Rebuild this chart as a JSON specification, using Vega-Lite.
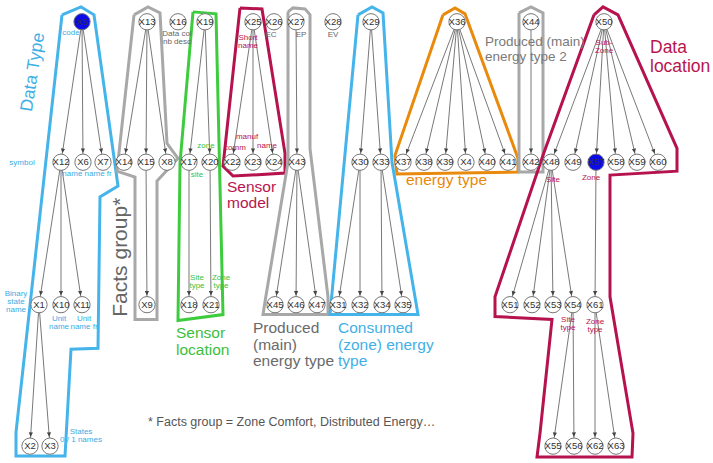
{
"$schema": "https://vega.github.io/schema/vega-lite/v6.json",
"width": 713, "height": 463,
"autosize": {"type": "fit", "contains": "padding"},
"padding": 0,
"background": "#ffffff",
"config": {"view": {"stroke": null}, "text": {"font": "Liberation Sans"}},
"datasets": {
"nodes": [
{"id":"X5","x":82,"y":22},{"id":"X13","x":147,"y":22},{"id":"X16","x":178,"y":22},{"id":"X19","x":205,"y":22},{"id":"X25","x":253,"y":22},{"id":"X26","x":274,"y":22},{"id":"X27","x":296,"y":22},{"id":"X28","x":333,"y":22},{"id":"X29","x":371,"y":22},{"id":"X36","x":457,"y":22},{"id":"X44","x":531,"y":22},{"id":"X50","x":604,"y":22},
{"id":"X12","x":61,"y":164},{"id":"X6","x":83,"y":164},{"id":"X7","x":103,"y":164},{"id":"X14","x":124,"y":164},{"id":"X15","x":146,"y":164},{"id":"X8","x":167,"y":164},{"id":"X17","x":189,"y":164},{"id":"X20","x":210,"y":164},{"id":"X22","x":232,"y":164},{"id":"X23","x":253,"y":164},{"id":"X24","x":274,"y":164},{"id":"X43","x":297,"y":164},{"id":"X30","x":360,"y":164},{"id":"X33","x":381,"y":164},{"id":"X37","x":403,"y":164},{"id":"X38","x":424,"y":164},{"id":"X39","x":445,"y":164},{"id":"X4","x":466,"y":164},{"id":"X40","x":487,"y":164},{"id":"X41","x":508,"y":164},{"id":"X42","x":531,"y":164},{"id":"X48","x":551,"y":164},{"id":"X49","x":573,"y":164},{"id":"X57","x":596,"y":164},{"id":"X58","x":616,"y":164},{"id":"X59","x":637,"y":164},{"id":"X60","x":658,"y":164},
{"id":"X1","x":39,"y":308},{"id":"X10","x":61,"y":308},{"id":"X11","x":82,"y":308},{"id":"X9","x":147,"y":308},{"id":"X18","x":189,"y":308},{"id":"X21","x":211,"y":308},{"id":"X45","x":275,"y":308},{"id":"X46","x":296,"y":308},{"id":"X47","x":317,"y":308},{"id":"X31","x":338,"y":308},{"id":"X32","x":360,"y":308},{"id":"X34","x":382,"y":308},{"id":"X35","x":403,"y":308},{"id":"X51","x":510,"y":308},{"id":"X52","x":532,"y":308},{"id":"X53","x":553,"y":308},{"id":"X54","x":573,"y":308},{"id":"X61","x":595,"y":308},
{"id":"X2","x":30,"y":451},{"id":"X3","x":50,"y":451},{"id":"X55","x":553,"y":451},{"id":"X56","x":574,"y":451},{"id":"X62","x":595,"y":451},{"id":"X63","x":616,"y":451}
],
"edges": [
{"s":"X5","t":"X12"},{"s":"X5","t":"X6"},{"s":"X5","t":"X7"},
{"s":"X12","t":"X1"},{"s":"X12","t":"X10"},{"s":"X12","t":"X11"},
{"s":"X1","t":"X2"},{"s":"X1","t":"X3"},
{"s":"X13","t":"X14"},{"s":"X13","t":"X15"},{"s":"X13","t":"X8"},{"s":"X15","t":"X9"},
{"s":"X19","t":"X17"},{"s":"X19","t":"X20"},{"s":"X17","t":"X18"},{"s":"X20","t":"X21"},
{"s":"X25","t":"X22"},{"s":"X25","t":"X23"},{"s":"X25","t":"X24"},
{"s":"X27","t":"X43"},{"s":"X43","t":"X45"},{"s":"X43","t":"X46"},{"s":"X43","t":"X47"},
{"s":"X29","t":"X30"},{"s":"X29","t":"X33"},{"s":"X30","t":"X31"},{"s":"X30","t":"X32"},{"s":"X33","t":"X34"},{"s":"X33","t":"X35"},
{"s":"X36","t":"X37"},{"s":"X36","t":"X38"},{"s":"X36","t":"X39"},{"s":"X36","t":"X4"},{"s":"X36","t":"X40"},{"s":"X36","t":"X41"},
{"s":"X44","t":"X42"},
{"s":"X50","t":"X48"},{"s":"X50","t":"X49"},{"s":"X50","t":"X57"},{"s":"X50","t":"X58"},{"s":"X50","t":"X59"},{"s":"X50","t":"X60"},
{"s":"X48","t":"X51"},{"s":"X48","t":"X52"},{"s":"X48","t":"X53"},{"s":"X48","t":"X54"},
{"s":"X54","t":"X55"},{"s":"X54","t":"X56"},
{"s":"X57","t":"X61"},{"s":"X61","t":"X62"},{"s":"X61","t":"X63"}
],
"polys": [
{"p":"Data Type","i":0,"x":62,"y":15},{"p":"Data Type","i":1,"x":81,"y":7},{"p":"Data Type","i":2,"x":94,"y":15},{"p":"Data Type","i":3,"x":118,"y":188},{"p":"Data Type","i":4,"x":100,"y":199},{"p":"Data Type","i":5,"x":98,"y":352},{"p":"Data Type","i":6,"x":71,"y":353},{"p":"Data Type","i":7,"x":65,"y":461},{"p":"Data Type","i":8,"x":16,"y":461},{"p":"Data Type","i":9,"x":16,"y":437},{"p":"Data Type","i":10,"x":62,"y":15},
{"p":"Facts group","i":0,"x":134,"y":15},{"p":"Facts group","i":1,"x":148,"y":7},{"p":"Facts group","i":2,"x":160,"y":13},{"p":"Facts group","i":3,"x":167,"y":145},{"p":"Facts group","i":4,"x":178,"y":160},{"p":"Facts group","i":5,"x":157,"y":183},{"p":"Facts group","i":6,"x":157,"y":323},{"p":"Facts group","i":7,"x":135,"y":323},{"p":"Facts group","i":8,"x":135,"y":179},{"p":"Facts group","i":9,"x":117,"y":173},{"p":"Facts group","i":10,"x":134,"y":15},
{"p":"Sensor location","i":0,"x":193,"y":12},{"p":"Sensor location","i":1,"x":216,"y":14},{"p":"Sensor location","i":2,"x":223,"y":318},{"p":"Sensor location","i":3,"x":178,"y":324},{"p":"Sensor location","i":4,"x":180,"y":165},{"p":"Sensor location","i":5,"x":193,"y":12},
{"p":"Sensor model","i":0,"x":240,"y":8},{"p":"Sensor model","i":1,"x":262,"y":9},{"p":"Sensor model","i":2,"x":285,"y":155},{"p":"Sensor model","i":3,"x":285,"y":175},{"p":"Sensor model","i":4,"x":233,"y":178},{"p":"Sensor model","i":5,"x":223,"y":168},{"p":"Sensor model","i":6,"x":240,"y":8},
{"p":"Produced","i":0,"x":288,"y":12},{"p":"Produced","i":1,"x":293,"y":8},{"p":"Produced","i":2,"x":305,"y":9},{"p":"Produced","i":3,"x":310,"y":15},{"p":"Produced","i":4,"x":310,"y":150},{"p":"Produced","i":5,"x":328,"y":300},{"p":"Produced","i":6,"x":328,"y":318},{"p":"Produced","i":7,"x":263,"y":318},{"p":"Produced","i":8,"x":265,"y":305},{"p":"Produced","i":9,"x":288,"y":164},{"p":"Produced","i":10,"x":288,"y":12},
{"p":"Consumed","i":0,"x":358,"y":15},{"p":"Consumed","i":1,"x":372,"y":7},{"p":"Consumed","i":2,"x":383,"y":13},{"p":"Consumed","i":3,"x":392,"y":164},{"p":"Consumed","i":4,"x":418,"y":318},{"p":"Consumed","i":5,"x":330,"y":318},{"p":"Consumed","i":6,"x":358,"y":15},
{"p":"Energy type","i":0,"x":443,"y":15},{"p":"Energy type","i":1,"x":455,"y":8},{"p":"Energy type","i":2,"x":465,"y":14},{"p":"Energy type","i":3,"x":518,"y":160},{"p":"Energy type","i":4,"x":518,"y":174},{"p":"Energy type","i":5,"x":397,"y":176},{"p":"Energy type","i":6,"x":395,"y":157},{"p":"Energy type","i":7,"x":443,"y":15},
{"p":"Produced 2","i":0,"x":519,"y":13},{"p":"Produced 2","i":1,"x":531,"y":7},{"p":"Produced 2","i":2,"x":543,"y":13},{"p":"Produced 2","i":3,"x":543,"y":174},{"p":"Produced 2","i":4,"x":519,"y":174},{"p":"Produced 2","i":5,"x":519,"y":13},
{"p":"Data location","i":0,"x":594,"y":15},{"p":"Data location","i":1,"x":603,"y":7},{"p":"Data location","i":2,"x":618,"y":15},{"p":"Data location","i":3,"x":677,"y":150},{"p":"Data location","i":4,"x":677,"y":173},{"p":"Data location","i":5,"x":610,"y":177},{"p":"Data location","i":6,"x":610,"y":300},{"p":"Data location","i":7,"x":633,"y":438},{"p":"Data location","i":8,"x":632,"y":462},{"p":"Data location","i":9,"x":537,"y":462},{"p":"Data location","i":10,"x":540,"y":438},{"p":"Data location","i":11,"x":552,"y":323},{"p":"Data location","i":12,"x":495,"y":320},{"p":"Data location","i":13,"x":495,"y":300},{"p":"Data location","i":14,"x":543,"y":157},{"p":"Data location","i":15,"x":594,"y":15}
],
"notes": [
{"t":"code","x":71,"y":33,"p":"Data Type"},
{"t":"symbol","x":22,"y":165,"p":"Data Type"},
{"t":"name name fr","x":87,"y":176,"p":"Data Type"},
{"t":"Binary\nstate\nname","x":16,"y":297,"p":"Data Type"},
{"t":"Unit\nname","x":59,"y":322,"p":"Data Type"},
{"t":"Unit\nname fr","x":84,"y":322,"p":"Data Type"},
{"t":"States\n0 / 1 names","x":81,"y":437,"p":"Data Type"},
{"t":"Data col\nnb desc","x":177,"y":34,"p":"Other"},
{"t":"EC","x":271,"y":35,"p":"Other"},
{"t":"EP","x":301,"y":35,"p":"Other"},
{"t":"EV","x":333,"y":35,"p":"Other"},
{"t":"zone","x":206,"y":148,"p":"Sensor location"},
{"t":"site","x":197,"y":177,"p":"Sensor location"},
{"t":"Site\ntype","x":197,"y":281,"p":"Sensor location"},
{"t":"Zone\ntype","x":221,"y":281,"p":"Sensor location"},
{"t":"Short\nname","x":248,"y":38,"p":"Sensor model"},
{"t":"manuf","x":247,"y":139,"p":"Sensor model"},
{"t":"name","x":267,"y":148,"p":"Sensor model"},
{"t":"comm","x":235,"y":150,"p":"Sensor model"},
{"t":"Sub-\nZone","x":604,"y":43,"p":"Data location"},
{"t":"Site","x":553,"y":182,"p":"Data location"},
{"t":"Zone","x":591,"y":180,"p":"Data location"},
{"t":"Site\ntype","x":568,"y":323,"p":"Data location"},
{"t":"Zone\ntype","x":595,"y":326,"p":"Data location"}
],
"titles": [
{"t":"Sensor\nlocation","x":176,"y":342,"p":"Sensor location"},
{"t":"Sensor\nmodel","x":227,"y":194,"p":"Sensor model"},
{"t":"Produced\n(main)\nenergy type","x":253,"y":337,"p":"Produced"},
{"t":"Consumed\n(zone) energy\ntype","x":338,"y":337,"p":"Consumed"},
{"t":"energy type","x":406,"y":187,"p":"Energy type"}
]
},
"layer": [
{"data": {"name": "polys"},
 "mark": {"type": "line", "strokeWidth": 3, "strokeJoin": "miter"},
 "encoding": {
  "x": {"field": "x", "type": "quantitative", "scale": {"domain": [0, 713], "nice": false}, "axis": null},
  "y": {"field": "y", "type": "quantitative", "scale": {"domain": [0, 463], "nice": false, "reverse": true}, "axis": null},
  "detail": {"field": "p", "type": "nominal"},
  "order": {"field": "i", "type": "quantitative"},
  "color": {"field": "p", "type": "nominal", "legend": null,
   "scale": {"domain": ["Data Type","Facts group","Sensor location","Sensor model","Produced","Consumed","Energy type","Produced 2","Data location"],
             "range": ["#45b4ea","#a8a8a8","#3dcc3d","#b5124e","#a8a8a8","#45b4ea","#ea8a0c","#a8a8a8","#b5124e"]}}
 }},
{"data": {"name": "edges"},
 "transform": [
  {"lookup": "s", "from": {"data": {"name": "nodes"}, "key": "id", "fields": ["x", "y"]}, "as": ["sx", "sy"]},
  {"lookup": "t", "from": {"data": {"name": "nodes"}, "key": "id", "fields": ["x", "y"]}, "as": ["tx", "ty"]}
 ],
 "mark": {"type": "rule", "color": "#555555", "strokeWidth": 0.8},
 "encoding": {
  "x": {"field": "sx", "type": "quantitative", "scale": {"domain": [0, 713], "nice": false}, "axis": null},
  "y": {"field": "sy", "type": "quantitative", "scale": {"domain": [0, 463], "nice": false, "reverse": true}, "axis": null},
  "x2": {"field": "tx"},
  "y2": {"field": "ty"}
 }},
{"data": {"name": "edges"},
 "transform": [
  {"lookup": "s", "from": {"data": {"name": "nodes"}, "key": "id", "fields": ["x", "y"]}, "as": ["sx", "sy"]},
  {"lookup": "t", "from": {"data": {"name": "nodes"}, "key": "id", "fields": ["x", "y"]}, "as": ["tx", "ty"]},
  {"calculate": "atan2(datum.sx - datum.tx, datum.ty - datum.sy) * 180 / PI", "as": "ang"}
 ],
 "mark": {"type": "point", "shape": "M0,-1.85L-0.42,-2.75L0.42,-2.75Z", "filled": true, "color": "#444444", "size": 100, "opacity": 1},
 "encoding": {
  "x": {"field": "tx", "type": "quantitative", "scale": {"domain": [0, 713], "nice": false}, "axis": null},
  "y": {"field": "ty", "type": "quantitative", "scale": {"domain": [0, 463], "nice": false, "reverse": true}, "axis": null},
  "angle": {"field": "ang", "type": "quantitative", "scale": null}
 }},
{"data": {"name": "nodes"},
 "mark": {"type": "point", "shape": "circle", "filled": true, "size": 265, "stroke": "#777777", "strokeWidth": 1, "opacity": 1},
 "encoding": {
  "x": {"field": "x", "type": "quantitative", "scale": {"domain": [0, 713], "nice": false}, "axis": null},
  "y": {"field": "y", "type": "quantitative", "scale": {"domain": [0, 463], "nice": false, "reverse": true}, "axis": null},
  "fill": {"condition": {"test": "datum.id === 'X5' || datum.id === 'X57'", "value": "#0a0aea"}, "value": "#ffffff"}
 }},
{"data": {"name": "nodes"},
 "mark": {"type": "text", "fontSize": 9.5, "color": "#333333", "align": "center", "baseline": "middle"},
 "encoding": {
  "x": {"field": "x", "type": "quantitative", "scale": {"domain": [0, 713], "nice": false}, "axis": null},
  "y": {"field": "y", "type": "quantitative", "scale": {"domain": [0, 463], "nice": false, "reverse": true}, "axis": null},
  "text": {"field": "id"}
 }},
{"data": {"name": "notes"},
 "mark": {"type": "text", "fontSize": 8, "lineHeight": 8, "lineBreak": "\n", "align": "center", "baseline": "middle"},
 "encoding": {
  "x": {"field": "x", "type": "quantitative", "scale": {"domain": [0, 713], "nice": false}, "axis": null},
  "y": {"field": "y", "type": "quantitative", "scale": {"domain": [0, 463], "nice": false, "reverse": true}, "axis": null},
  "text": {"field": "t"},
  "color": {"field": "p", "type": "nominal", "legend": null,
   "scale": {"domain": ["Data Type","Other","Sensor location","Sensor model","Data location"],
             "range": ["#3aace4","#666666","#3cc03c","#b8154f","#b8154f"]}}
 }},
{"data": {"name": "titles"},
 "mark": {"type": "text", "fontSize": 15.5, "lineHeight": 16.5, "lineBreak": "\n", "align": "left", "baseline": "alphabetic"},
 "encoding": {
  "x": {"field": "x", "type": "quantitative", "scale": {"domain": [0, 713], "nice": false}, "axis": null},
  "y": {"field": "y", "type": "quantitative", "scale": {"domain": [0, 463], "nice": false, "reverse": true}, "axis": null},
  "text": {"field": "t"},
  "color": {"field": "p", "type": "nominal", "legend": null,
   "scale": {"domain": ["Sensor location","Sensor model","Produced","Consumed","Energy type"],
             "range": ["#3cc03c","#b8154f","#6a6a6a","#3fb0e6","#e8890c"]}}
 }},
{"data": {"values": [{"t": "Data\nlocation", "x": 650, "y": 54}]},
 "mark": {"type": "text", "fontSize": 17.5, "lineHeight": 19, "lineBreak": "\n", "align": "left", "baseline": "alphabetic", "color": "#b8154f"},
 "encoding": {
  "x": {"field": "x", "type": "quantitative", "scale": {"domain": [0, 713], "nice": false}, "axis": null},
  "y": {"field": "y", "type": "quantitative", "scale": {"domain": [0, 463], "nice": false, "reverse": true}, "axis": null},
  "text": {"field": "t"}
 }},
{"data": {"values": [{"t": "Produced (main)\nenergy type 2", "x": 485, "y": 47}]},
 "mark": {"type": "text", "fontSize": 13.5, "lineHeight": 15, "lineBreak": "\n", "align": "left", "baseline": "alphabetic", "color": "#7a7a7a"},
 "encoding": {
  "x": {"field": "x", "type": "quantitative", "scale": {"domain": [0, 713], "nice": false}, "axis": null},
  "y": {"field": "y", "type": "quantitative", "scale": {"domain": [0, 463], "nice": false, "reverse": true}, "axis": null},
  "text": {"field": "t"}
 }},
{"data": {"values": [{"t": "Data Type", "x": 33, "y": 73}]},
 "mark": {"type": "text", "fontSize": 17.5, "angle": -81, "align": "center", "baseline": "middle", "color": "#3fb0e6"},
 "encoding": {
  "x": {"field": "x", "type": "quantitative", "scale": {"domain": [0, 713], "nice": false}, "axis": null},
  "y": {"field": "y", "type": "quantitative", "scale": {"domain": [0, 463], "nice": false, "reverse": true}, "axis": null},
  "text": {"field": "t"}
 }},
{"data": {"values": [{"t": "Facts group*", "x": 127, "y": 260}]},
 "mark": {"type": "text", "fontSize": 21, "angle": -90, "align": "center", "baseline": "alphabetic", "color": "#666666"},
 "encoding": {
  "x": {"field": "x", "type": "quantitative", "scale": {"domain": [0, 713], "nice": false}, "axis": null},
  "y": {"field": "y", "type": "quantitative", "scale": {"domain": [0, 463], "nice": false, "reverse": true}, "axis": null},
  "text": {"field": "t"}
 }},
{"data": {"values": [{"t": "* Facts group = Zone Comfort, Distributed Energy…", "x": 148, "y": 431}]},
 "mark": {"type": "text", "fontSize": 12.5, "align": "left", "baseline": "alphabetic", "color": "#555555"},
 "encoding": {
  "x": {"field": "x", "type": "quantitative", "scale": {"domain": [0, 713], "nice": false}, "axis": null},
  "y": {"field": "y", "type": "quantitative", "scale": {"domain": [0, 463], "nice": false, "reverse": true}, "axis": null},
  "text": {"field": "t"}
 }}
],
"resolve": {"scale": {"color": "independent"}}
}
